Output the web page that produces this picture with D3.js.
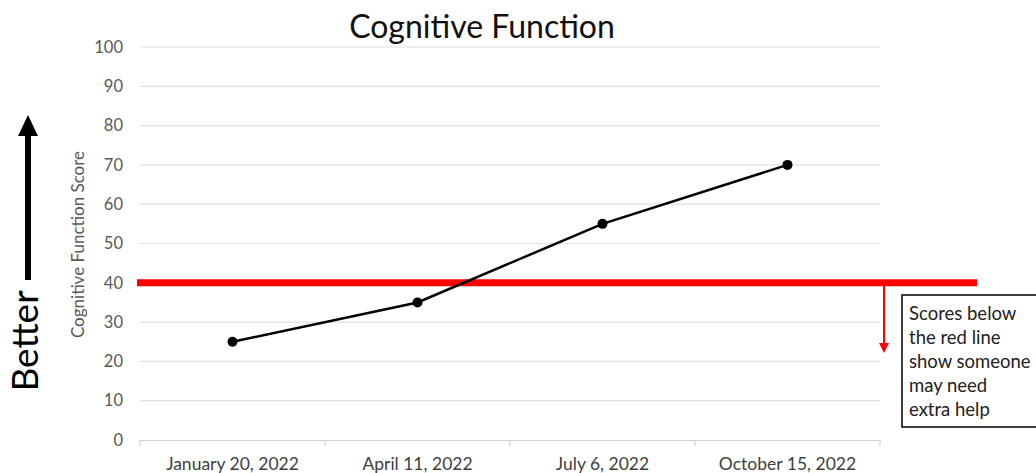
<!DOCTYPE html>
<html><head><meta charset="utf-8">
<script src="https://cdn.jsdelivr.net/npm/d3@7"></script>
<style>body{margin:0;background:#fff}svg{display:block}text{font-family:Lato,"Open Sans",sans-serif}</style>
</head><body><svg id="c" width="1036" height="473"></svg>
<script>
const categories = ["January 20, 2022", "April 11, 2022", "July 6, 2022", "October 15, 2022"];
const scores = [25, 35, 55, 70];
const threshold = 40;
const yTicks = [0, 10, 20, 30, 40, 50, 60, 70, 80, 90, 100];
const title = "Cognitive Function";
const yTitle = "Cognitive Function Score";
const noteLines = ["Scores below", "the red line", "show someone", "may need", "extra help"];

const svg = d3.select("#c");
const m = {l: 140, r: 880, t: 47, b: 440};
const x = d3.scaleBand().domain(categories).range([m.l, m.r]);
const y = d3.scaleLinear().domain([0, 100]).range([m.b, m.t]);

// gridlines
svg.append("g").selectAll("line").data(yTicks.filter(d => d > 0)).join("line")
  .attr("x1", m.l).attr("x2", m.r).attr("y1", d => y(d)).attr("y2", d => y(d))
  .attr("stroke", "#e0e0e0").attr("stroke-width", 1.2);

// y axis labels
const ya = svg.append("g").attr("transform", `translate(${m.l - 17},0)`)
  .call(d3.axisLeft(y).tickValues(yTicks).tickSize(0).tickPadding(0));
ya.select(".domain").remove();
ya.selectAll("text").attr("font-size", 16.5).attr("fill", "#595959").style("font-family", "Lato");

// x axis
const xa = svg.append("g").attr("transform", `translate(0,${m.b})`)
  .call(d3.axisBottom(x).tickSize(0).tickPadding(18));
xa.select(".domain").attr("stroke", "#d0d0d0").attr("stroke-width", 1.2);
xa.selectAll("text").attr("font-size", 17.5).attr("fill", "#404040").style("font-family", "Lato");
const bounds = categories.map(c => x(c)).concat([x.range()[1]]);
svg.append("g").selectAll("line").data(bounds).join("line")
  .attr("x1", d => d).attr("x2", d => d).attr("y1", m.b).attr("y2", m.b + 6)
  .attr("stroke", "#d0d0d0").attr("stroke-width", 1.2);

// title
svg.append("text").attr("x", 482).attr("y", 38).attr("text-anchor", "middle")
  .attr("font-size", 32).attr("fill", "#111").text(title);

// y title
svg.append("text").attr("transform", `translate(84,${(m.t + m.b) / 2 + 1}) rotate(-90)`)
  .attr("text-anchor", "middle").attr("font-size", 17).attr("fill", "#595959").text(yTitle);

// threshold line
svg.append("line").attr("x1", 137).attr("x2", 977)
  .attr("y1", y(threshold)).attr("y2", y(threshold))
  .attr("stroke", "#ff0000").attr("stroke-width", 7);

// data line
const cx = d => x(d) + x.bandwidth() / 2;
svg.append("path").datum(scores.map((v, i) => [categories[i], v]))
  .attr("fill", "none").attr("stroke", "#000").attr("stroke-width", 2.5)
  .attr("d", d3.line().x(d => cx(d[0])).y(d => y(d[1])));
svg.append("g").selectAll("circle").data(scores).join("circle")
  .attr("cx", (d, i) => cx(categories[i])).attr("cy", d => y(d)).attr("r", 5).attr("fill", "#000");

// red down arrow
svg.append("line").attr("x1", 884).attr("x2", 884).attr("y1", y(threshold)).attr("y2", 345)
  .attr("stroke", "#ff0000").attr("stroke-width", 2);
svg.append("path").attr("d", "M879,343 L889,343 L884,353 Z").attr("fill", "#ff0000");

// note box
svg.append("rect").attr("x", 902).attr("y", 295).attr("width", 150).attr("height", 132)
  .attr("fill", "#fff").attr("stroke", "#000").attr("stroke-width", 1.5);
svg.append("g").selectAll("text").data(noteLines).join("text")
  .attr("x", 909).attr("y", (d, i) => 320 + i * 24)
  .attr("font-size", 18.5).attr("fill", "#222").text(d => d);

// Better arrow
svg.append("rect").attr("x", 25).attr("y", 130).attr("width", 6).attr("height", 150).attr("fill", "#000");
svg.append("path").attr("d", "M18,136 L38,136 L28,115 Z").attr("fill", "#000");
svg.append("text").attr("transform", "translate(38,341) rotate(-90)").attr("text-anchor", "middle")
  .attr("font-size", 37).attr("fill", "#000").text("Better");
</script></body></html>
